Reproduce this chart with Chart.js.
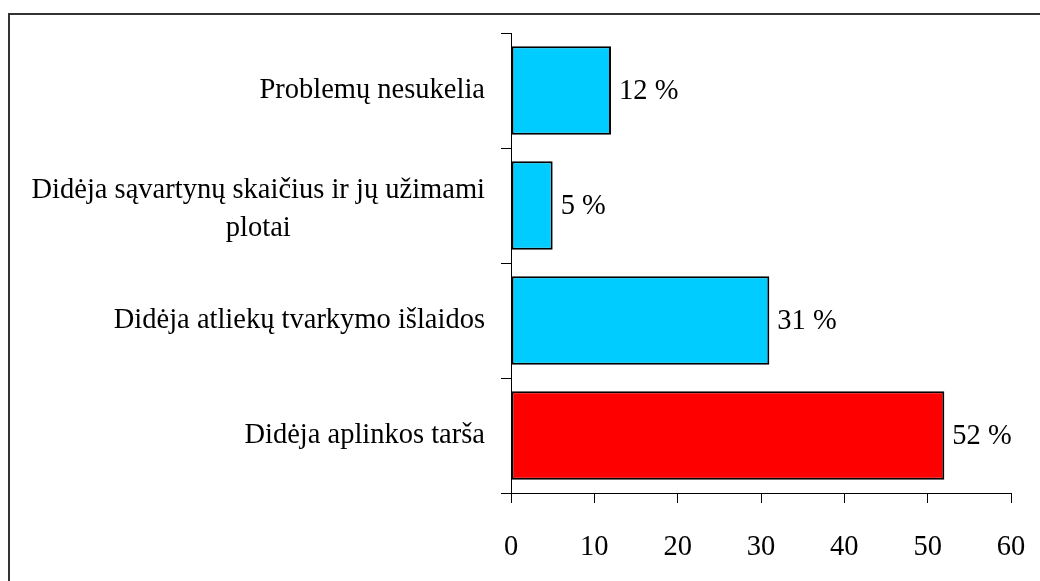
<!DOCTYPE html>
<html>
<head>
<meta charset="utf-8">
<script src="https://cdn.jsdelivr.net/npm/chart.js@4"></script>
<style>
  html, body { margin: 0; padding: 0; background: #fff; }
  .wrap { position: relative; width: 1040px; height: 581px; }
  .frame { position: absolute; left: 8px; top: 13px; right: 0; bottom: 0;
           border-left: 2px solid #333; border-top: 2px solid #333; }
  canvas { position: absolute; left: 0; top: 0; }
</style>
</head>
<body>
<div class="wrap">
  <div class="frame"></div>
  <canvas id="chart" width="1040" height="581"></canvas>
</div>
<script>
'use strict';

const FONT = 'Liberation Serif, Times New Roman, serif';

const categories = [
  'Problemų nesukelia',
  ['Didėja sąvartynų skaičius ir jų užimami', 'plotai'],
  'Didėja atliekų tvarkymo išlaidos',
  'Didėja aplinkos tarša',
];
const values = [12, 5, 31, 52];
const barColors = ['#00ccff', '#00ccff', '#00ccff', '#ff0000'];
const xTicks = [0, 10, 20, 30, 40, 50, 60];

// y kategorijų tekstas: blokas lygiuotas dešinėn, eilutės centruotos
const yLabelPlugin = {
  id: 'yLabels',
  afterDraw(chart) {
    const scale = chart.scales.y;
    const ctx = chart.ctx;
    const lineH = 38;
    ctx.save();
    ctx.font = '28.5px ' + FONT;
    ctx.fillStyle = '#000';
    ctx.textAlign = 'center';
    ctx.textBaseline = 'middle';
    categories.forEach((label, i) => {
      const lines = Array.isArray(label) ? label : [label];
      const blockW = Math.max(...lines.map(l => ctx.measureText(l).width));
      const right = scale.right - 26;
      const cx = right - blockW / 2;
      const cy = scale.getPixelForTick(i) + (lines.length > 1 ? 4 : 0);
      lines.forEach((l, j) => {
        ctx.fillText(l, cx, cy + (j - (lines.length - 1) / 2) * lineH);
      });
    });
    ctx.restore();
  },
};

// reikšmės šalia stulpelių
const valueLabelPlugin = {
  id: 'valueLabels',
  afterDatasetsDraw(chart) {
    const ctx = chart.ctx;
    const meta = chart.getDatasetMeta(0);
    ctx.save();
    ctx.font = '28.5px ' + FONT;
    ctx.fillStyle = '#000';
    ctx.textAlign = 'left';
    ctx.textBaseline = 'middle';
    meta.data.forEach((bar, i) => {
      ctx.fillText(values[i] + ' %', bar.x + 8, bar.y + 1);
    });
    ctx.restore();
  },
};

new Chart(document.getElementById('chart'), {
  type: 'bar',
  data: {
    labels: categories,
    datasets: [{
      data: values,
      backgroundColor: barColors,
      borderColor: '#000',
      borderWidth: 2,
      borderSkipped: false,
      barPercentage: 0.77,
      categoryPercentage: 1,
    }],
  },
  options: {
    indexAxis: 'y',
    responsive: false,
    animation: false,
    layout: { padding: { top: 33, right: 29, left: 0, bottom: 0 } },
    plugins: {
      legend: { display: false },
      tooltip: { enabled: false },
    },
    scales: {
      x: {
        min: 0,
        max: 60,
        afterBuildTicks: (scale) => { scale.ticks = xTicks.map(v => ({ value: v })); },
        afterFit: (scale) => {
          scale.height = 88;
          scale.paddingLeft = 0;
          scale.paddingRight = 0;
        },
        border: { color: '#000', width: 1 },
        grid: { drawOnChartArea: false, drawTicks: true, tickLength: 10, color: '#000' },
        ticks: {
          color: '#000',
          padding: 27,
          font: { size: 28.5, family: FONT },
        },
      },
      y: {
        afterFit: (scale) => { scale.width = 511; },
        border: { color: '#000', width: 1 },
        grid: { drawOnChartArea: false, drawTicks: true, tickLength: 10, color: '#000', offset: true },
        ticks: { display: false },
      },
    },
  },
  plugins: [yLabelPlugin, valueLabelPlugin],
});
</script>
</body>
</html>
